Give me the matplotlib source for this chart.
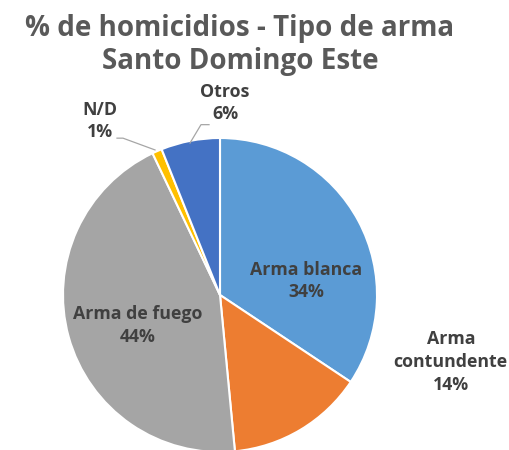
import matplotlib
matplotlib.use("Agg")
import matplotlib.pyplot as plt

categories = ["Arma blanca", "Arma contundente", "Arma de fuego", "N/D", "Otros"]
values = [34, 14, 44, 1, 6]
colors = ["#5B9BD5", "#ED7D31", "#A5A5A5", "#FFC000", "#4472C4"]
title = "% de homicidios - Tipo de arma\nSanto Domingo Este"

plt.rcParams['font.family'] = ['Open Sans', 'DejaVu Sans']

fig = plt.figure(figsize=(5.1, 4.5), dpi=100)
W, H = 510, 450
cx, cy, r = 220, 295, 157
ax = fig.add_axes([(cx - r) / W, (H - cy - r) / H, 2 * r / W, 2 * r / H])
ax.pie(values, colors=colors, startangle=90, counterclock=False,
       wedgeprops=dict(edgecolor="white", linewidth=1.5))
ax.set_xlim(-1, 1)
ax.set_ylim(-1, 1)
ax.set_aspect("equal")
ax.axis("off")

lab_col = "#404040"
fs = 12.8
kw = dict(ha="center", va="center", fontsize=fs, fontweight="bold", color=lab_col, linespacing=1.35)
texts = [f"{c}\n{v:.0f}%" for c, v in zip(categories, values)]
texts[1] = f"Arma\ncontundente\n{values[1]:.0f}%"
pos = [(0.548, 0.089), (1.47, -0.427), (-0.522, -0.197), (-0.764, 1.108), (0.032, 1.223)]
for t, p in zip(texts, pos):
    ax.text(p[0], p[1], t, **kw)

lc = "#A6A6A6"
ax.plot([-0.656, -0.618, -0.414], [0.999, 0.999, 0.924], color=lc, lw=0.9, clip_on=False)
ax.plot([-0.191, -0.121, -0.070], [0.968, 1.085, 1.085], color=lc, lw=0.9, clip_on=False)

fig.text(240 / W, 1 - 45 / H, title, ha="center", va="center", fontsize=20,
         fontweight="bold", color="#595959", linespacing=1.22)

fig.savefig("out.png", dpi=100)
